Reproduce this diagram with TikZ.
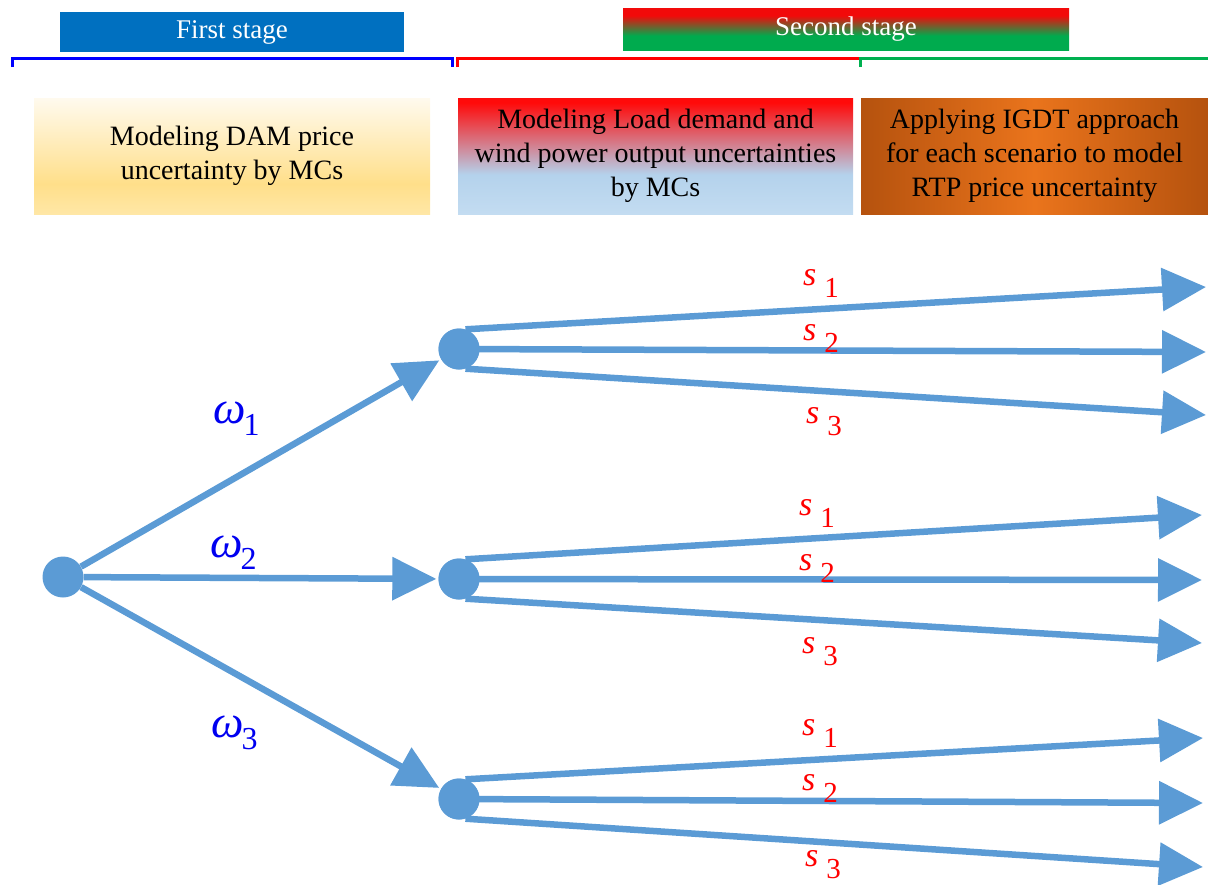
\documentclass[tikz,border=0pt]{standalone}
\usepackage{fontspec}
\setmainfont{Liberation Serif}
\usetikzlibrary{arrows.meta}
\definecolor{arrowblue}{HTML}{5B9BD5}
\definecolor{stageblue}{HTML}{0070C0}
\definecolor{sred}{HTML}{F20A0A}
\definecolor{sgreen}{HTML}{00AB4E}
\definecolor{bgreen}{HTML}{00B050}
\definecolor{lblue}{HTML}{B4D2EC}
\definecolor{lblue2}{HTML}{C3DCF1}
\definecolor{bred}{HTML}{FF0A0A}
\definecolor{ylight}{HTML}{FFFAEE}
\definecolor{ydark}{HTML}{FFDF8A}
\definecolor{ybot}{HTML}{FFE7A6}
\definecolor{odark}{HTML}{B5520E}
\definecolor{olight}{HTML}{EA741C}
\definecolor{omblue}{RGB}{0,0,240}
\pgfdeclareverticalshading{redblue}{100bp}{color(0bp)=(lblue2); color(25bp)=(lblue2); color(42bp)=(lblue); color(73bp)=(bred); color(100bp)=(bred)}
\pgfdeclareverticalshading{redgreen}{100bp}{color(0bp)=(sgreen); color(25bp)=(sgreen); color(42bp)=(sgreen); color(66bp)=(sred); color(100bp)=(sred)}
\pgfdeclareverticalshading{yellowbox}{100bp}{color(0bp)=(ybot); color(25bp)=(ybot); color(38bp)=(ydark); color(75bp)=(ylight); color(100bp)=(ylight)}
\newcommand\mysl[1]{{\fontsize{34}{34}\selectfont\itshape s}\hspace{8pt}\raisebox{-12pt}{\fontsize{29}{29}\selectfont #1}}
\newcommand\myom[1]{{\fontsize{46}{46}\selectfont\itshape ω}\hspace{-2pt}\raisebox{-12pt}{\fontsize{32}{32}\selectfont #1}}
\tikzset{
  stagebox/.style={rectangle, inner sep=0pt, text=white, font=\fontsize{27}{27}\selectfont},
  textbox/.style={rectangle, inner sep=0pt, minimum height=116pt, align=center, font=\fontsize{28}{34}\selectfont},
  dot/.style={circle, fill=arrowblue, minimum size=41pt, inner sep=0pt},
  arr/.style={line width=6.5pt, draw=arrowblue, -{Triangle[length=44pt,width=42pt]}},
  bracket/.style={line width=3pt},
  slab/.style={text=red, inner sep=0pt, anchor=base west},
  olab/.style={text=omblue, inner sep=0pt, anchor=base west}
}
\begin{document}
\begin{tikzpicture}[x=1pt,y=-1pt]
\useasboundingbox (0,0) rectangle (1208,884);
% stage headers
\node[stagebox, fill=stageblue, minimum width=344pt, minimum height=40pt] (fs) at (232,32) {\raisebox{-2pt}{First stage}};
\node[stagebox, shade, shading=redgreen, minimum width=446pt, minimum height=42pt] (ss) at (846,29) {\raisebox{-2pt}{Second stage}};
% brackets
\draw[bracket, blue] (12,67) -- (12,58) -- (452,58) -- (452,67);
\draw[bracket, red] (457,67) -- (457,58) -- (860,58);
\draw[bracket, bgreen] (860,67) -- (860,58) -- (1208,58);
% text boxes
\node[textbox, shade, shading=yellowbox, minimum width=396pt] (b1) at (232,156) {\raisebox{-3pt}{\parbox{380pt}{\centering Modeling DAM price\\uncertainty by MCs}}};
\node[textbox, shade, shading=redblue, minimum width=395pt] (b2) at (655.5,156) {Modeling Load demand and\\wind power output uncertainties\\by MCs};
\node[textbox, left color=odark, right color=odark, middle color=olight, minimum width=347pt] (b3) at (1034.5,156) {Applying IGDT approach\\for each scenario to model\\RTP price uncertainty};
% tree nodes
\node[dot] (r) at (63,577) {};
\node[dot] (m1) at (459,349) {};
\node[dot] (m2) at (459,579) {};
\node[dot] (m3) at (459,799) {};
% end points
\coordinate (t11) at (1206,287);
\coordinate (t12) at (1206,352);
\coordinate (t13) at (1206,415);
\coordinate (t21) at (1202,515);
\coordinate (t22) at (1202,580);
\coordinate (t23) at (1202,643);
\coordinate (t31) at (1203,738);
\coordinate (t32) at (1203,803);
\coordinate (t33) at (1203,867);
% first stage arrows
\draw[arr, shorten >=2pt] (r) -- (m1);
\draw[arr, shorten >=2pt] (r) -- (m2);
\draw[arr, shorten >=2pt] (r) -- (m3);
% second stage arrows
\draw[arr] (m1.72) -- (t11);
\draw[arr] (m1.center) -- (t12);
\draw[arr] (m1.-72) -- (t13);
\draw[arr] (m2.72) -- (t21);
\draw[arr] (m2.center) -- (t22);
\draw[arr] (m2.-72) -- (t23);
\draw[arr] (m3.72) -- (t31);
\draw[arr] (m3.center) -- (t32);
\draw[arr] (m3.-72) -- (t33);
\node[dot] at (m1) {};
\node[dot] at (m2) {};
\node[dot] at (m3) {};
% labels
\node[olab] (w1) at (213,423) {\myom{1}};
\node[olab] (w2) at (210,557) {\myom{2}};
\node[olab] (w3) at (211,737) {\myom{3}};
\node[slab] (l11) at (803,285) {\mysl{1}};
\node[slab] (l12) at (803,340) {\mysl{2}};
\node[slab] (l13) at (806,423) {\mysl{3}};
\node[slab] (l21) at (799,515) {\mysl{1}};
\node[slab] (l22) at (799,570) {\mysl{2}};
\node[slab] (l23) at (802,653) {\mysl{3}};
\node[slab] (l31) at (802,735) {\mysl{1}};
\node[slab] (l32) at (802,790) {\mysl{2}};
\node[slab] (l33) at (805,866) {\mysl{3}};
\end{tikzpicture}
\end{document}
